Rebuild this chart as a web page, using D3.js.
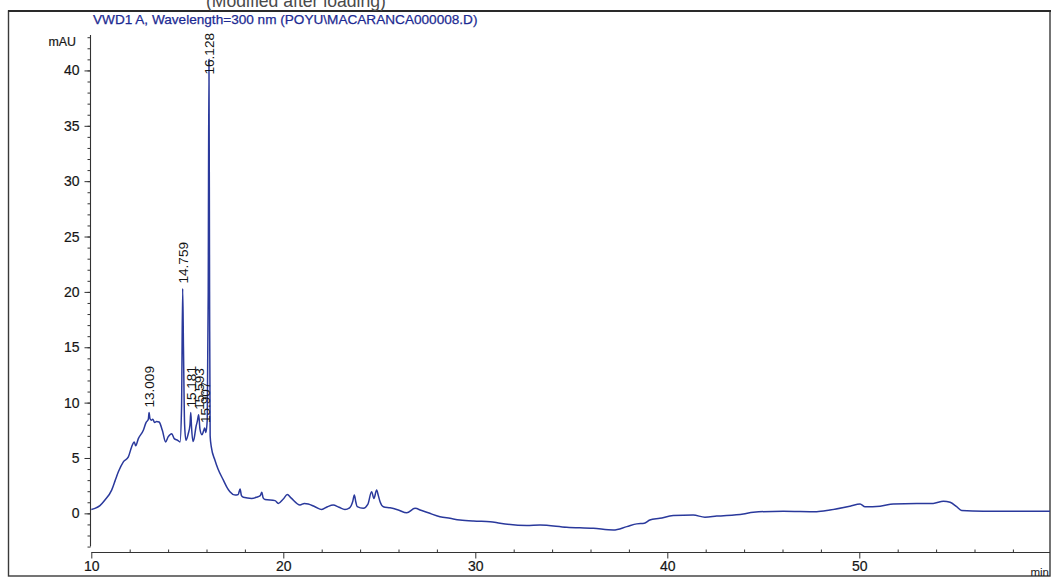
<!DOCTYPE html>
<html>
<head>
<meta charset="utf-8">
<script src="https://cdn.jsdelivr.net/npm/d3@7"></script>
<style>
  html, body { margin: 0; padding: 0; background: #fff; }
  svg { display: block; }
  text { font-family: "Liberation Sans", Arial, sans-serif; }
</style>
</head>
<body>
<svg id="chart" width="1053" height="586"></svg>
<script>
// Chromatogram: VWD1 A, 300 nm
const titleText = "VWD1 A, Wavelength=300 nm (POYU\\MACARANCA000008.D)";
const headerNote = "(Modified after loading)";
const yUnit = "mAU";
const xUnit = "min";

// retention time (min) and absorbance (mAU) along the trace
const times = [
  10.00, 10.19, 10.45, 10.71, 11.06, 11.25, 11.41, 11.67, 11.93, 12.10,
  12.24, 12.31, 12.45, 12.71, 12.85, 12.97, 13.009, 13.05, 13.12, 13.20,
  13.30, 13.40, 13.53, 13.70, 13.87, 14.00, 14.19, 14.32, 14.50, 14.62,
  14.70, 14.759, 14.80, 14.86, 14.93, 15.05, 15.14, 15.181, 15.22, 15.29,
  15.36, 15.45, 15.52, 15.593, 15.66, 15.76, 15.84, 15.907, 15.97, 16.04,
  16.09, 16.128, 16.16, 16.19, 16.25, 16.44, 16.60, 16.88, 17.05, 17.22,
  17.49, 17.65, 17.75, 17.82, 17.92, 18.35, 18.60, 18.80, 18.88, 18.95,
  19.05, 19.57, 19.74, 20.00, 20.21, 20.40, 20.87, 21.10, 21.30, 21.65,
  22.00, 22.30, 22.60, 22.90, 23.21, 23.45, 23.62, 23.70, 23.78, 23.85,
  24.17, 24.40, 24.60, 24.72, 24.86, 24.95, 25.04, 25.21, 25.56, 25.99,
  26.43, 26.86, 27.21, 27.55, 28.16, 28.68, 29.20, 29.90, 30.77, 31.29,
  32.68, 33.37, 34.76, 36.15, 37.19, 37.89, 38.41, 38.80, 39.09, 39.61,
  40.31, 41.35, 41.96, 42.57, 43.96, 44.48, 46.04, 47.78, 48.47, 49.52,
  50.04, 50.30, 51.08, 51.77, 52.99, 53.85, 54.38, 54.73, 55.07, 55.33,
  56.46, 59.95
];
const signal = [
  0.35, 0.45, 0.7, 1.2, 2.1, 3.0, 3.75, 4.65, 5.1, 6.0,
  6.45, 6.1, 6.75, 7.5, 8.2, 8.5, 9.1, 8.6, 8.4, 8.5,
  8.2, 8.3, 8.25, 7.5, 6.45, 6.9, 7.2, 6.75, 6.6, 6.45,
  9.5, 20.3, 15.0, 8.0, 6.6, 7.2, 8.0, 9.1, 7.8, 6.5,
  6.8, 7.8, 8.3, 8.9, 7.6, 7.1, 7.4, 7.7, 7.3, 8.5,
  20.0, 41.0, 20.0, 7.0, 6.0, 4.8, 4.0, 3.0, 2.4, 1.95,
  1.65, 1.7, 2.2, 1.6, 1.45, 1.35, 1.45, 1.6, 1.9, 1.4,
  1.25, 1.15, 0.9, 1.3, 1.7, 1.4, 0.75, 0.9, 0.85, 0.6,
  0.35, 0.6, 0.75, 0.55, 0.35, 0.5, 1.1, 1.65, 1.0, 0.6,
  0.45, 0.8, 1.95, 1.35, 2.1, 1.6, 1.05, 0.6, 0.5, 0.3,
  0.05, 0.45, 0.25, 0.05, -0.3, -0.45, -0.6, -0.7, -0.75, -0.9,
  -1.1, -1.05, -1.25, -1.35, -1.5, -1.2, -0.95, -0.9, -0.6, -0.45,
  -0.2, -0.15, -0.35, -0.25, -0.05, 0.1, 0.2, 0.15, 0.3, 0.65,
  0.85, 0.6, 0.65, 0.85, 0.9, 0.9, 1.1, 1.0, 0.6, 0.25,
  0.2, 0.2
];

// integrated peaks (retention times) annotated on the trace
const peakTimes = [13.009, 14.759, 15.181, 15.593, 15.907, 16.128];

// axis ticks
const yMajorTicks = [0, 5, 10, 15, 20, 25, 30, 35, 40];
const yMinorTicks = d3.range(-3, 44, 1);
const xMajorTicks = [10, 20, 30, 40, 50];
const xMinorTicks = d3.range(10, 60, 2);

const svg = d3.select("#chart");
const traceColor = "#2a399c";
const inkColor = "#161616";

const x = d3.scaleLinear().domain([10, 60]).range([91.3, 1051.3]);
const y = d3.scaleLinear().domain([-3.4, 43.2]).range([551, 35]);
const axisX = 90.5;
const axisY = 552.5;
const plotRight = 1050;

// outer frame
svg.append("rect")
  .attr("x", 8.5).attr("y", 11).attr("width", 1041.5).attr("height", 565)
  .attr("fill", "none").attr("stroke", "#3a3a3a").attr("stroke-width", 1.4);
svg.append("line")
  .attr("x1", 8).attr("x2", 1051).attr("y1", 11).attr("y2", 11)
  .attr("stroke", "#2a2a2a").attr("stroke-width", 2.2);

// header note, partly cut by the page edge
svg.append("text")
  .attr("x", 206).attr("y", 6.5)
  .attr("font-family", "'Liberation Mono', 'DejaVu Sans Mono', monospace")
  .attr("font-size", 17.6)
  .attr("fill", "#4a4a4a")
  .text(headerNote);

// signal title
svg.append("text")
  .attr("x", 93).attr("y", 23.5)
  .attr("font-size", 13.6)
  .attr("fill", "#1c2a92")
  .attr("stroke", "#1c2a92").attr("stroke-width", 0.25)
  .text(titleText);

// y axis
const yAxisG = svg.append("g").attr("transform", `translate(${axisX},0)`);
yAxisG.append("line")
  .attr("x1", 0).attr("x2", 0)
  .attr("y1", y(-3)).attr("y2", y(43.2))
  .attr("stroke", "#333").attr("stroke-width", 1.1);
yAxisG.call(d3.axisLeft(y).tickValues(yMinorTicks).tickSize(3).tickFormat(""))
  .call(g => g.select(".domain").remove())
  .call(g => g.selectAll(".tick line").attr("stroke", "#333"));
const yMajor = svg.append("g").attr("transform", `translate(${axisX},0)`)
  .call(d3.axisLeft(y).tickValues(yMajorTicks).tickSize(6).tickPadding(5))
  .call(g => g.select(".domain").remove());
yMajor.selectAll(".tick line").attr("stroke", "#333");
yMajor.selectAll(".tick text")
  .attr("font-family", "'Liberation Sans', Arial, sans-serif")
  .attr("font-size", 14).attr("fill", inkColor)
  .attr("stroke", inkColor).attr("stroke-width", 0.2);
svg.append("text")
  .attr("x", 76).attr("y", 46)
  .attr("text-anchor", "end")
  .attr("font-size", 12.4).attr("fill", inkColor)
  .attr("stroke", inkColor).attr("stroke-width", 0.2)
  .text(yUnit);

// x axis
const xAxisG = svg.append("g").attr("transform", `translate(0,${axisY})`);
xAxisG.append("line")
  .attr("x1", x(10)).attr("x2", plotRight)
  .attr("y1", 0).attr("y2", 0)
  .attr("stroke", "#333").attr("stroke-width", 1.1);
xAxisG.append("g")
  .call(d3.axisTop(x).tickValues(xMinorTicks.filter(t => t % 10 !== 0)).tickSize(3).tickFormat(""))
  .call(g => g.select(".domain").remove())
  .call(g => g.selectAll(".tick line").attr("stroke", "#333"));
const xMajor = xAxisG.append("g")
  .call(d3.axisBottom(x).tickValues(xMajorTicks).tickSize(6).tickPadding(3))
  .call(g => g.select(".domain").remove());
xMajor.selectAll(".tick line").attr("stroke", "#333");
xMajor.selectAll(".tick text")
  .attr("font-family", "'Liberation Sans', Arial, sans-serif")
  .attr("font-size", 14).attr("fill", inkColor)
  .attr("stroke", inkColor).attr("stroke-width", 0.2);
svg.append("text")
  .attr("x", plotRight - 1).attr("y", 576)
  .attr("text-anchor", "end")
  .attr("font-size", 11.5).attr("fill", inkColor)
  .text(xUnit);

// trace
const data = times.map((t, i) => ({ t, v: signal[i] }));
svg.append("clipPath").attr("id", "plotClip")
  .append("rect").attr("x", axisX).attr("y", 12).attr("width", plotRight - axisX).attr("height", axisY - 12);
svg.append("path")
  .datum(data)
  .attr("clip-path", "url(#plotClip)")
  .attr("fill", "none")
  .attr("stroke", traceColor)
  .attr("stroke-width", 1.5)
  .attr("stroke-linejoin", "round")
  .attr("d", d3.line().x(d => x(d.t)).y(d => y(d.v)).curve(d3.curveMonotoneX));

// peak retention-time labels, rotated, kept below the top of the y axis
const labelTop = y(43.2) - 2;
const labels = svg.append("g");
peakTimes.forEach(pt => {
  const p = data.find(d => d.t === pt);
  const px = x(p.t);
  const label = labels.append("text")
    .attr("font-size", 13.6)
    .attr("fill", inkColor)
    .attr("dy", "0.36em")
    .text(pt.toFixed(3));
  const len = label.node().getComputedTextLength();
  const start = Math.max(y(p.v) - 5, labelTop + len);
  label.attr("transform", `translate(${px},${start}) rotate(-90)`);
});
</script>
</body>
</html>
